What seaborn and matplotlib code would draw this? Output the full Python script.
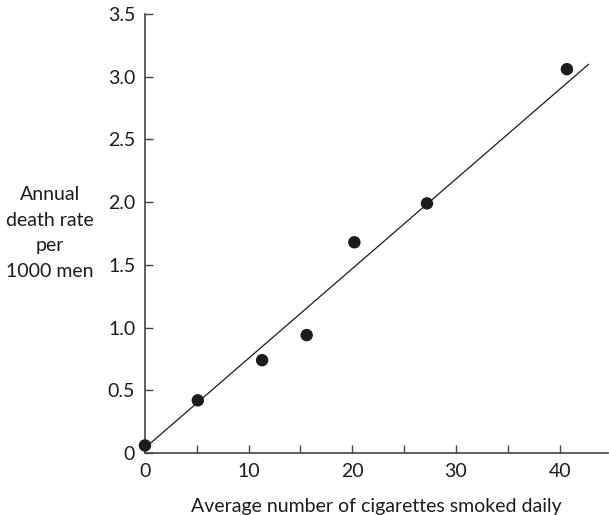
import numpy as np
import pandas as pd
import matplotlib
matplotlib.use('Agg')
import matplotlib.pyplot as plt
import seaborn as sns

# data
cigs = [0, 5.1, 11.3, 15.6, 20.2, 27.2, 40.7]
death_rate = [0.06, 0.42, 0.74, 0.94, 1.68, 1.99, 3.06]
# fitted line drawn in the figure (end points)
line_x = [0, 42.8]
line_y = [0.04, 3.10]

xticks = [0, 5, 10, 15, 20, 25, 30, 35, 40]
xticklabels = ['0', '', '10', '', '20', '', '30', '', '40']
yticks = [0, 0.5, 1.0, 1.5, 2.0, 2.5, 3.0, 3.5]
yticklabels = ['0', '0.5', '1.0', '1.5', '2.0', '2.5', '3.0', '3.5']

sns.set_style('ticks')
plt.rcParams['font.family'] = ['Lato', 'DejaVu Sans']
ink = '#1c1c1c'

df = pd.DataFrame({'x': cigs, 'y': death_rate})
dl = pd.DataFrame({'x': line_x, 'y': line_y})

fig = plt.figure(figsize=(6.09, 5.15), dpi=100)
ax = fig.add_axes([0.238, 0.1204, 0.761, 0.8524])

sns.lineplot(data=dl, x='x', y='y', color=ink, lw=0.9, ax=ax)
sns.scatterplot(data=df, x='x', y='y', color=ink, s=80, edgecolor='none', ax=ax, zorder=3, clip_on=False)

ax.set_xlim(0, 44.7)
ax.set_ylim(0, 3.5)
ax.set_xticks(xticks)
ax.set_xticklabels(xticklabels)
ax.set_yticks(yticks)
ax.set_yticklabels(yticklabels)
ax.tick_params(direction='in', length=6, width=1, colors='#444444', labelcolor=ink,
               labelsize=14, pad=7)
for s in ['top', 'right']:
    ax.spines[s].set_visible(False)
for s in ['left', 'bottom']:
    ax.spines[s].set_color('#444444')
    ax.spines[s].set_linewidth(1.2)

ax.set_xlabel('Average number of cigarettes smoked daily', fontsize=14, color=ink, labelpad=13)
ax.set_ylabel('')
fig.text(50 / 609, 1 - 233 / 515, 'Annual\ndeath rate\nper\n1000 men', ha='center', va='center',
         fontsize=14, color=ink, linespacing=1.6)

plt.savefig('out.png', dpi=100)
